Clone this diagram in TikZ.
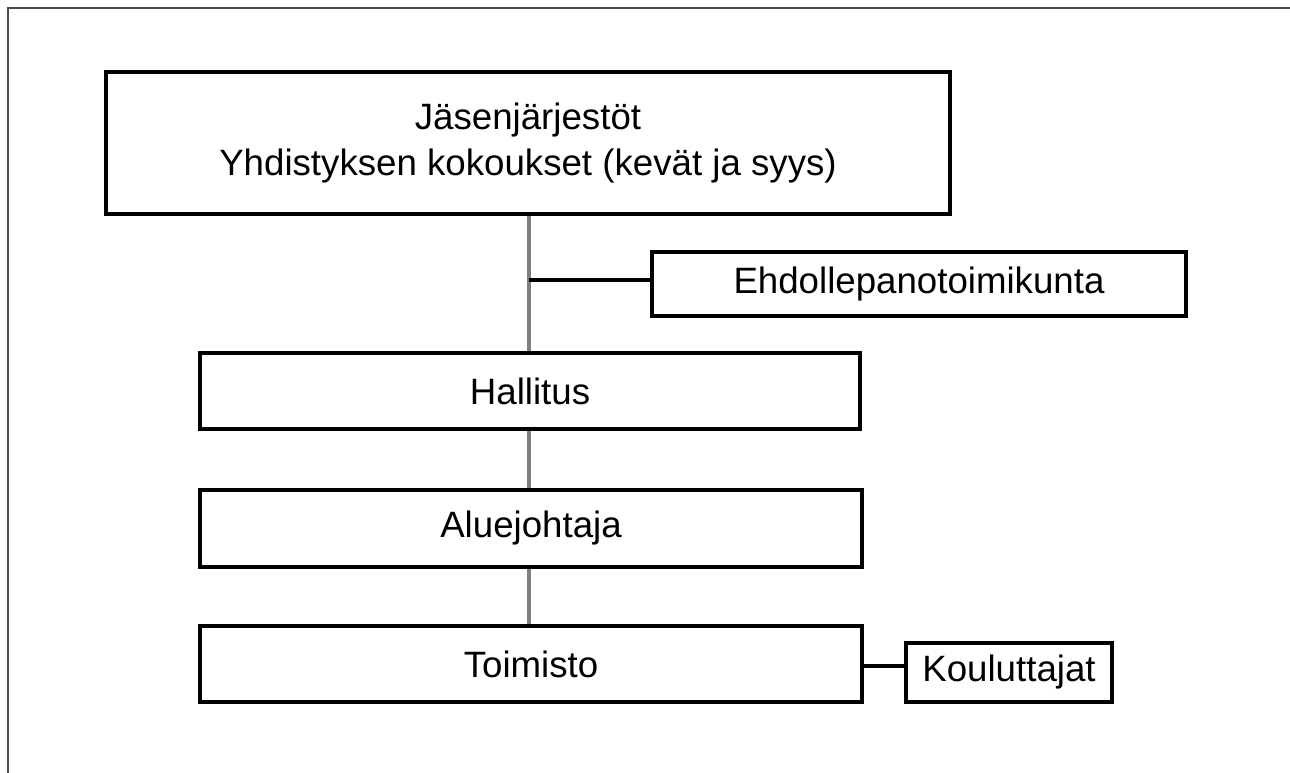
\documentclass[tikz,border=0pt]{standalone}
\usepackage{fontspec}
\setmainfont{Liberation Sans}
\begin{document}
\begin{tikzpicture}[x=0.75pt,y=-0.75pt,
  box/.style={draw=black, line width=3pt, fill=white, inner sep=0pt,
    font=\fontsize{27.5}{35}\selectfont, align=center},
  vline/.style={draw=black!50, line width=3.5pt},
  hline/.style={draw=black, line width=2.6pt},
  frame/.style={draw=black!70, line width=1.5pt}]
\useasboundingbox (0,0) rectangle (1290,773);
% outer frame (top and left edges)
\coordinate (fbl) at (8,773);
\coordinate (ftl) at (8,8);
\coordinate (ftr) at (1290,8);
\draw[frame] (fbl) -- (ftl) -- (ftr);
% nodes
\node[box, minimum width=633pt, minimum height=106.5pt] (top) at (528,143)
  {Jäsenjärjestöt\\Yhdistyksen kokoukset (kevät ja syys)};
\node[box, minimum width=400.5pt, minimum height=48pt] (ehd) at (919,284) {Ehdollepanotoimikunta};
\node[box, minimum width=495pt, minimum height=57pt] (hal) at (530,391) {Hallitus};
\node[box, minimum width=496.5pt, minimum height=57.75pt] (alu) at (531,528.5) {Aluejohtaja};
\node[box, minimum width=496.5pt, minimum height=57pt] (toi) at (531,664) {Toimisto};
\node[box, minimum width=154.5pt, minimum height=44.25pt] (kou) at (1009,672.5) {Kouluttajat};
% connectors
\coordinate (j) at (529,280);
\draw[vline] (top.south -| j) -- (hal.north -| j);
\draw[vline] (hal.south -| j) -- (alu.north -| j);
\draw[vline] (alu.south -| j) -- (toi.north -| j);
\draw[hline] (j) -- (j -| ehd.west);
\coordinate (k) at (862,666);
\draw[hline] (k) -- (k -| kou.west);
\end{tikzpicture}
\end{document}
